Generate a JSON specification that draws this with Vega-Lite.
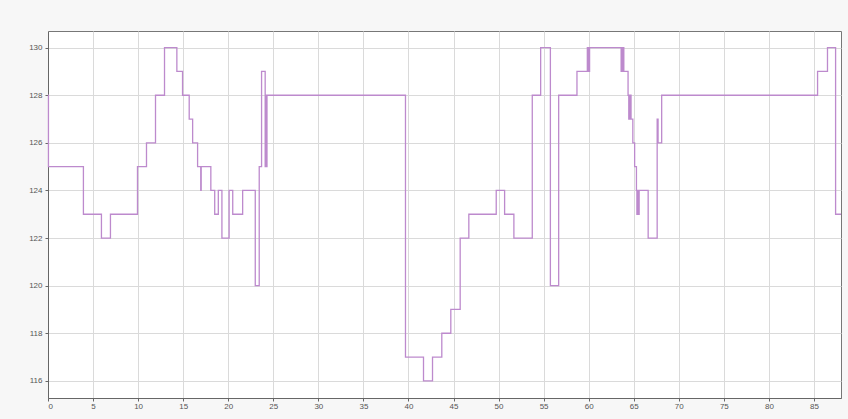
{
  "$schema": "https://vega.github.io/schema/vega-lite/v6.json",
  "width": 793,
  "height": 367,
  "autosize": "none",
  "padding": {"left": 48, "top": 31, "right": 7, "bottom": 21},
  "background": "#f7f7f7",
  "config": {
    "view": {"fill": "white", "stroke": "#777", "strokeWidth": 1},
    "axis": {
      "labelFont": "Liberation Sans",
      "labelFontSize": 8,
      "labelColor": "#555",
      "gridColor": "#dadada",
      "gridWidth": 1,
      "domainColor": "#666",
      "tickColor": "#666",
      "tickSize": 3,
      "title": null
    }
  },
  "data": {
    "values": [
      {"t": 0, "v": 128},
      {"t": 0.05, "v": 125},
      {"t": 3.93, "v": 123},
      {"t": 5.93, "v": 122},
      {"t": 6.93, "v": 123},
      {"t": 9.93, "v": 125},
      {"t": 10.93, "v": 126},
      {"t": 11.93, "v": 128},
      {"t": 12.93, "v": 130},
      {"t": 14.3, "v": 129},
      {"t": 14.93, "v": 128},
      {"t": 15.67, "v": 127},
      {"t": 16.05, "v": 126},
      {"t": 16.6, "v": 125},
      {"t": 16.95, "v": 124},
      {"t": 17.0, "v": 125},
      {"t": 18.07, "v": 124},
      {"t": 18.5, "v": 123},
      {"t": 18.9, "v": 124},
      {"t": 19.3, "v": 122},
      {"t": 20.1, "v": 124},
      {"t": 20.5, "v": 123},
      {"t": 21.6, "v": 124},
      {"t": 23.0, "v": 120},
      {"t": 23.44, "v": 125},
      {"t": 23.7, "v": 129},
      {"t": 24.1, "v": 125},
      {"t": 24.2, "v": 128},
      {"t": 24.25, "v": 125},
      {"t": 24.3, "v": 128},
      {"t": 39.67, "v": 117},
      {"t": 41.67, "v": 116},
      {"t": 42.67, "v": 117},
      {"t": 43.7, "v": 118},
      {"t": 44.7, "v": 119},
      {"t": 45.74, "v": 122},
      {"t": 46.7, "v": 123},
      {"t": 49.74, "v": 124},
      {"t": 50.67, "v": 123},
      {"t": 51.7, "v": 122},
      {"t": 53.74, "v": 128},
      {"t": 54.67, "v": 130},
      {"t": 55.75, "v": 120},
      {"t": 56.67, "v": 128},
      {"t": 58.7, "v": 129},
      {"t": 59.85, "v": 130},
      {"t": 59.9, "v": 129},
      {"t": 59.95, "v": 130},
      {"t": 60.0, "v": 129},
      {"t": 60.1, "v": 130},
      {"t": 63.6, "v": 129},
      {"t": 63.65, "v": 130},
      {"t": 63.75, "v": 129},
      {"t": 63.8, "v": 130},
      {"t": 63.9, "v": 129},
      {"t": 64.37, "v": 128},
      {"t": 64.45, "v": 127},
      {"t": 64.5, "v": 128},
      {"t": 64.6, "v": 127},
      {"t": 64.65, "v": 128},
      {"t": 64.7, "v": 127},
      {"t": 64.9, "v": 126},
      {"t": 65.1, "v": 125},
      {"t": 65.3, "v": 124},
      {"t": 65.35, "v": 123},
      {"t": 65.45, "v": 124},
      {"t": 65.5, "v": 123},
      {"t": 65.6, "v": 124},
      {"t": 66.6, "v": 122},
      {"t": 67.6, "v": 127},
      {"t": 67.7, "v": 126},
      {"t": 68.1, "v": 128},
      {"t": 85.4, "v": 129},
      {"t": 86.5, "v": 130},
      {"t": 87.4, "v": 123},
      {"t": 88.0, "v": 123}
    ]
  },
  "mark": {"type": "line", "interpolate": "step-after", "color": "#bd8acd", "strokeWidth": 1.3},
  "encoding": {
    "x": {
      "field": "t",
      "type": "quantitative",
      "scale": {"domain": [0, 88], "nice": false, "zero": false},
      "axis": {"values": [0, 5, 10, 15, 20, 25, 30, 35, 40, 45, 50, 55, 60, 65, 70, 75, 80, 85], "labelPadding": 1}
    },
    "y": {
      "field": "v",
      "type": "quantitative",
      "scale": {"domain": [115.28, 130.7], "nice": false, "zero": false},
      "axis": {"values": [116, 118, 120, 122, 124, 126, 128, 130], "labelPadding": 3}
    }
  }
}
